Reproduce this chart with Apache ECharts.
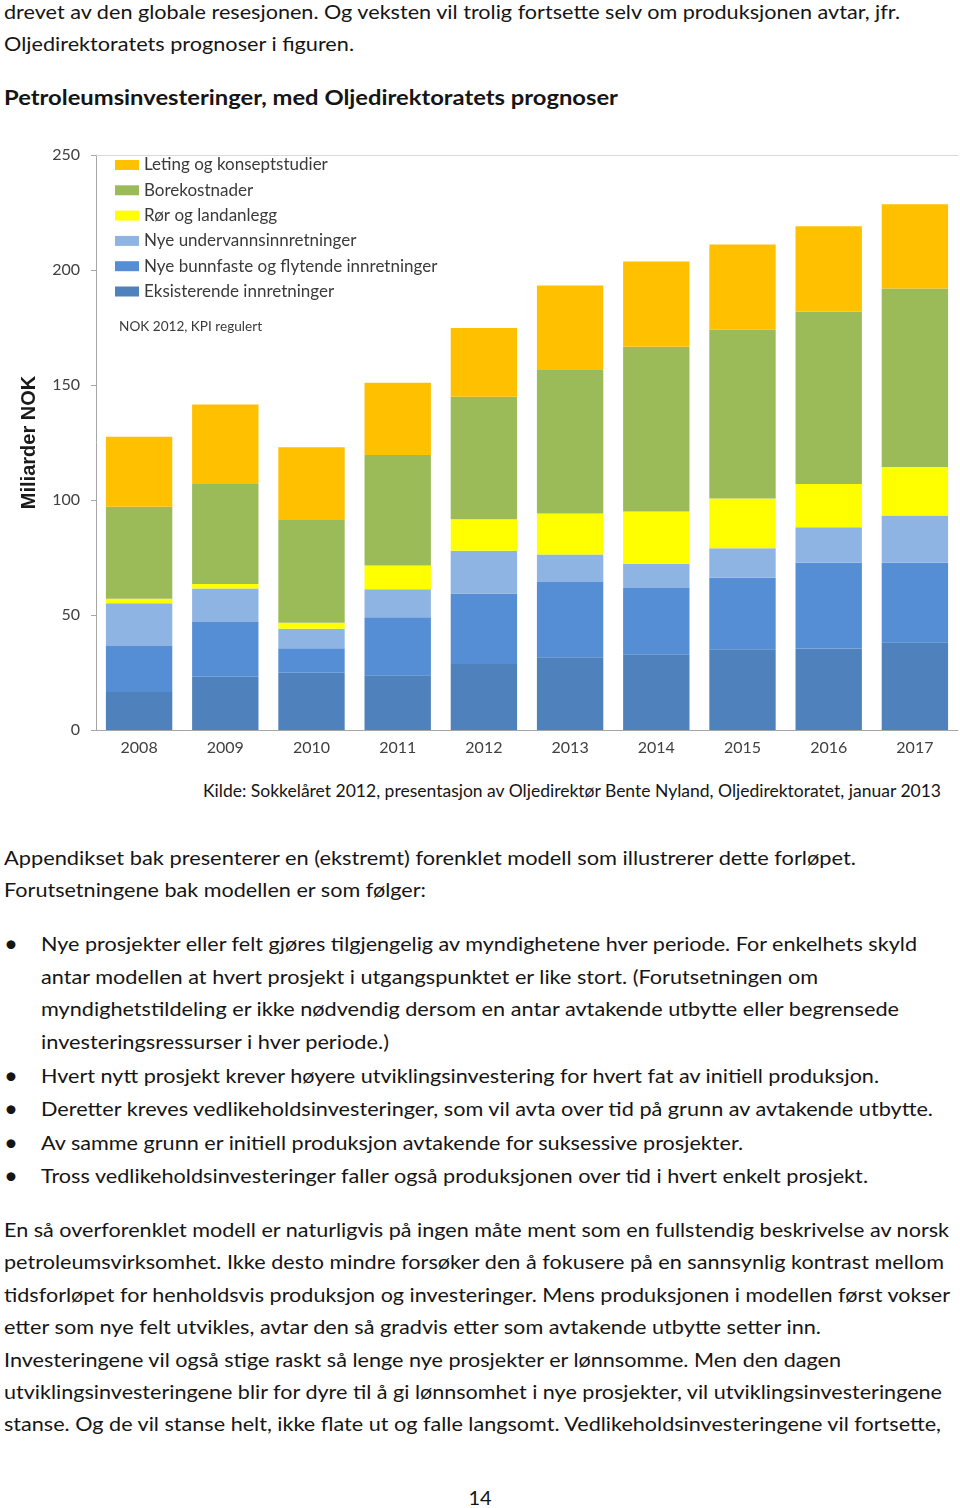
<!DOCTYPE html>
<html>
<head>
<meta charset="utf-8">
<script src="https://cdn.jsdelivr.net/npm/echarts@6/dist/echarts.min.js"></script>
<style>
  html, body { margin:0; padding:0; background:#fff; }
  body { width:960px; height:1508px; position:relative; overflow:hidden; }
  .ln { position:absolute; white-space:nowrap; color:#151515; font-family:Lato, 'Open Sans', sans-serif; transform-origin:0 50%; }
  #chart { position:absolute; left:0; top:130px; width:960px; height:640px; }
</style>
</head>
<body>
<div id="chart"></div>
<script>
// ---- chart data ----
const years = ['2008','2009','2010','2011','2012','2013','2014','2015','2016','2017'];
const eksisterende = [16.5, 23.2, 24.9, 23.8, 28.7, 31.6, 32.9, 35.1, 35.4, 38.1];
const bunnfaste    = [20.0, 23.8, 10.6, 25.2, 30.7, 32.7, 28.8, 31.1, 37.3, 34.6];
const undervann    = [18.6, 14.5,  8.5, 12.2, 18.5, 12.0, 10.6, 12.8, 15.4, 20.6];
const ror          = [ 2.0,  2.0,  2.6, 10.3, 13.7, 17.8, 22.7, 21.6, 18.9, 21.0];
const bore         = [40.0, 43.8, 44.7, 48.1, 53.3, 62.7, 71.6, 73.5, 74.8, 77.7];
const leting       = [30.4, 34.2, 31.6, 31.4, 29.9, 36.5, 37.1, 37.0, 37.2, 36.6];
const seriesNames = ['Eksisterende innretninger','Nye bunnfaste og flytende innretninger','Nye undervannsinnretninger','Rør og landanlegg','Borekostnader','Leting og konseptstudier'];
const seriesData = [eksisterende, bunnfaste, undervann, ror, bore, leting];
const seriesColors = ['#4F81BD','#558ED5','#8EB4E3','#FFFF00','#9BBB59','#FFC000'];
const yTicks = [0, 50, 100, 150, 200, 250];

// ---- page text ----
const textLines = [
  {t:'drevet av den globale resesjonen. Og veksten vil trolig fortsette selv om produksjonen avtar, jfr.', x:4, y:11, w:896},
  {t:'Oljedirektoratets prognoser i figuren.', x:4, y:43, w:350},
  {t:'Petroleumsinvesteringer, med Oljedirektoratets prognoser', x:4, y:97, w:614, b:true},
  {t:'Kilde: Sokkelåret 2012, presentasjon av Oljedirektør Bente Nyland, Oljedirektoratet, januar 2013', x:203, y:791, w:738, s:17},
  {t:'Appendikset bak presenterer en (ekstremt) forenklet modell som illustrerer dette forløpet.', x:4, y:857, w:852},
  {t:'Forutsetningene bak modellen er som følger:', x:4, y:889, w:422},
  {t:'Nye prosjekter eller felt gjøres tilgjengelig av myndighetene hver periode. For enkelhets skyld', x:41, y:943, w:876, bullet:true},
  {t:'antar modellen at hvert prosjekt i utgangspunktet er like stort. (Forutsetningen om', x:41, y:976, w:777},
  {t:'myndighetstildeling er ikke nødvendig dersom en antar avtakende utbytte eller begrensede', x:41, y:1008, w:858},
  {t:'investeringsressurser i hver periode.)', x:41, y:1041, w:348},
  {t:'Hvert nytt prosjekt krever høyere utviklingsinvestering for hvert fat av initiell produksjon.', x:41, y:1075, w:838, bullet:true},
  {t:'Deretter kreves vedlikeholdsinvesteringer, som vil avta over tid på grunn av avtakende utbytte.', x:41, y:1108, w:892, bullet:true},
  {t:'Av samme grunn er initiell produksjon avtakende for suksessive prosjekter.', x:41, y:1142, w:702, bullet:true},
  {t:'Tross vedlikeholdsinvesteringer faller også produksjonen over tid i hvert enkelt prosjekt.', x:41, y:1175, w:827, bullet:true},
  {t:'En så overforenklet modell er naturligvis på ingen måte ment som en fullstendig beskrivelse av norsk', x:4, y:1229, w:945},
  {t:'petroleumsvirksomhet. Ikke desto mindre forsøker den å fokusere på en sannsynlig kontrast mellom', x:4, y:1261, w:940},
  {t:'tidsforløpet for henholdsvis produksjon og investeringer. Mens produksjonen i modellen først vokser', x:4, y:1294, w:946},
  {t:'etter som nye felt utvikles, avtar den så gradvis etter som avtakende utbytte setter inn.', x:4, y:1326, w:817},
  {t:'Investeringene vil også stige raskt så lenge nye prosjekter er lønnsomme. Men den dagen', x:4, y:1359, w:837},
  {t:'utviklingsinvesteringene blir for dyre til å gi lønnsomhet i nye prosjekter, vil utviklingsinvesteringene', x:4, y:1391, w:938},
  {t:'stanse. Og de vil stanse helt, ikke flate ut og falle langsomt. Vedlikeholdsinvesteringene vil fortsette,', x:4, y:1423, w:937}
];

textLines.forEach(function(L){
  const size = L.s || 20;
  const d = document.createElement('div');
  d.className = 'ln';
  d.textContent = L.t;
  d.style.fontSize = size + 'px';
  d.style.lineHeight = '30px';
  d.style.left = L.x + 'px';
  d.style.top = (L.y - 15) + 'px';
  if (L.b) d.style.fontWeight = 'bold';
  document.body.appendChild(d);
  const nat = d.getBoundingClientRect().width;
  if (nat > 0) d.style.transform = 'scaleX(' + (L.w / nat) + ')';
  if (L.bullet) {
    const bdiv = document.createElement('div');
    bdiv.className = 'ln';
    bdiv.textContent = '•';
    bdiv.style.fontSize = '24px';
    bdiv.style.lineHeight = '30px';
    bdiv.style.left = '4px';
    bdiv.style.top = (L.y - 15) + 'px';
    document.body.appendChild(bdiv);
  }
});
const pg = document.createElement('div');
pg.className = 'ln';
pg.textContent = '14';
pg.style.fontSize = '20px';
pg.style.lineHeight = '30px';
pg.style.top = (1497 - 15) + 'px';
pg.style.left = '0px';
pg.style.width = '960px';
pg.style.textAlign = 'center';
document.body.appendChild(pg);

// ---- chart ----
const chart = echarts.init(document.getElementById('chart'), null, {renderer:'canvas'});
const legendOrder = seriesNames.slice().reverse();
chart.setOption({
  animation: false,
  backgroundColor: '#fff',
  textStyle: { fontFamily: 'Lato' },
  grid: { left: 96, right: 2, top: 25, height: 575 },
  legend: {
    data: legendOrder,
    orient: 'vertical',
    left: 115, top: 26.5,
    padding: 0,
    itemWidth: 24, itemHeight: 10, itemGap: 8.3,
    icon: 'rect',
    textStyle: { fontFamily: 'Lato', fontSize: 17, color: '#3a3a3a', lineHeight: 17 }
  },
  graphic: [{
    type: 'text', left: 119, top: 190,
    style: { text: 'NOK 2012, KPI regulert', fontFamily: 'Lato', fontSize: 13.6, fill: '#3a3a3a' }
  }],
  xAxis: [{
    type: 'category', data: years,
    axisLine: { lineStyle: { color: '#a6a6a6', width: 1 } },
    axisTick: { show: false },
    axisLabel: { color: '#404040', fontSize: 16, fontFamily: 'Lato', margin: 10 }
  }, {
    type: 'category', data: years, position: 'top',
    axisLine: { show: true, lineStyle: { color: '#d9d9d9', width: 1 } },
    axisTick: { show: false }, axisLabel: { show: false }
  }],
  yAxis: {
    type: 'value', min: yTicks[0], max: yTicks[yTicks.length-1], interval: 50,
    axisLine: { show: true, lineStyle: { color: '#a6a6a6', width: 1 } },
    axisTick: { show: true, length: 5, lineStyle: { color: '#a6a6a6' } },
    splitLine: { show: false },
    axisLabel: { color: '#404040', fontSize: 16, fontFamily: 'Lato', margin: 16 },
    name: 'Miliarder NOK', nameLocation: 'middle', nameGap: 57, nameRotate: 90,
    nameTextStyle: { fontFamily: 'Liberation Sans', fontWeight: 'bold', fontSize: 20, color: '#1a1a1a' }
  },
  series: seriesNames.map(function(n, i){
    return {
      name: n, type: 'bar', stack: 'total', barCategoryGap: '23%',
      data: seriesData[i],
      itemStyle: { color: seriesColors[i] }
    };
  })
});
</script>
</body>
</html>
